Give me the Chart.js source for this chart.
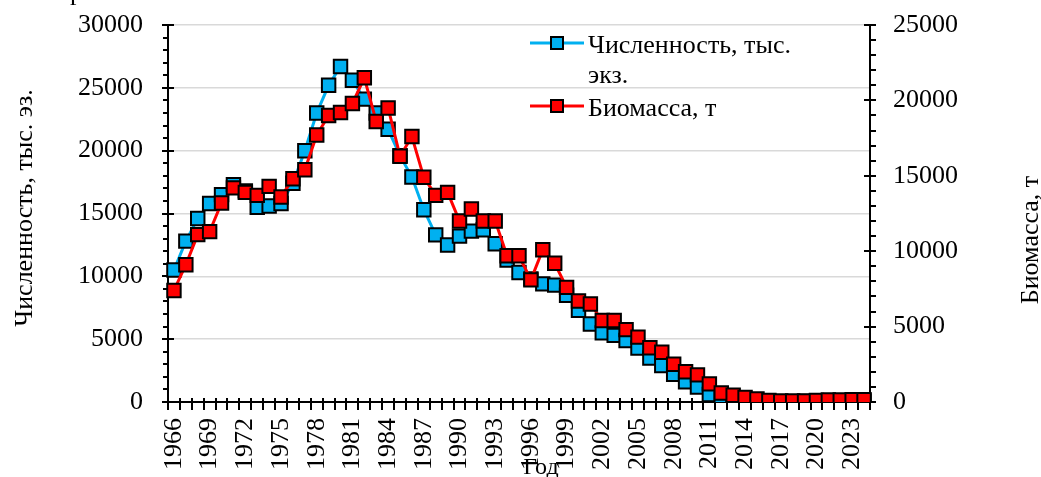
<!DOCTYPE html>
<html>
<head>
<meta charset="utf-8">
<script src="https://cdn.jsdelivr.net/npm/chart.js@4"></script>
<style>
html,body{margin:0;padding:0;background:#fff;}
#wrap{width:1041px;height:477px;position:relative;}
</style>
</head>
<body>
<div id="wrap"><canvas id="c" width="1041" height="477"></canvas></div>
<script>
const years = ["1966","1967","1968","1969","1970","1971","1972","1973","1974","1975","1976","1977","1978","1979","1980","1981","1982","1983","1984","1985","1986","1987","1988","1989","1990","1991","1992","1993","1994","1995","1996","1997","1998","1999","2000","2001","2002","2003","2004","2005","2006","2007","2008","2009","2010","2011","2012","2013","2014","2015","2016","2017","2018","2019","2020","2021","2022","2023","2024"];
const abundance = [10500,12800,14600,15800,16500,17300,16800,15500,15600,15800,17400,20000,23000,25200,26700,25600,24100,23000,21700,19600,17900,15300,13300,12500,13200,13600,13700,12600,11300,10300,9800,9400,9300,8500,7300,6200,5500,5300,4900,4300,3500,2900,2200,1600,1200,600,250,150,100,60,40,30,30,40,50,60,70,80,80];
const biomass = [7400,9100,11100,11300,13200,14200,13900,13700,14300,13600,14800,15400,17700,19000,19200,19800,21500,18600,19500,16300,17600,14900,13700,13900,12000,12800,12000,12000,9700,9700,8100,10100,9200,7600,6700,6500,5400,5400,4800,4300,3600,3300,2500,2000,1800,1200,600,450,300,200,100,70,70,70,100,130,130,150,150];
const leftTicksMax = 30000;
const rightTicksMax = 25000;
const seriesNames = ["Численность, тыс. экз.", "Биомасса, т"];
const leftTitle = "Численность, тыс. эз.";
const rightTitle = "Биомасса, т";
const xTitle = "Год";

const FONT = "'Liberation Serif', 'Times New Roman', serif";
const BLUE = "#00b0f0", RED = "#ff0000";

const deco = {
  id: 'deco',
  beforeDatasetsDraw(chart) {
    const ctx = chart.ctx, a = chart.chartArea;
    const {x, y, y1} = chart.scales;
    ctx.save();
    ctx.strokeStyle = '#000'; ctx.lineWidth = 2;
    ctx.beginPath();
    y.ticks.forEach(t => {
      const py = Math.round(y.getPixelForValue(t.value));
      if (t.value % 5000 === 0) { ctx.moveTo(a.left - 6, py); ctx.lineTo(a.left + 6, py); }
      else { ctx.moveTo(a.left - 5, py); ctx.lineTo(a.left, py); }
    });
    y1.ticks.forEach(t => {
      const py = Math.round(y1.getPixelForValue(t.value));
      if (t.value % 5000 === 0) { ctx.moveTo(a.right - 6, py); ctx.lineTo(a.right + 6, py); }
      else { ctx.moveTo(a.right, py); ctx.lineTo(a.right + 6, py); }
    });
    for (let i = 0; i <= years.length; i++) {
      const px = Math.round(x.getPixelForValue(i - 0.5));
      ctx.moveTo(px, a.bottom - 4); ctx.lineTo(px, a.bottom + 8);
    }
    ctx.stroke();
    ctx.restore();
  },
  afterDraw(chart) {
    const ctx = chart.ctx;
    ctx.save();
    ctx.fillStyle = '#000';
    ctx.font = '26px ' + FONT;
    ctx.textAlign = 'center'; ctx.textBaseline = 'middle';
    ctx.save(); ctx.translate(25, 208); ctx.rotate(-Math.PI/2); ctx.fillText(leftTitle, 0, 0); ctx.restore();
    ctx.textBaseline = 'alphabetic';
    ctx.save(); ctx.translate(1038, 240); ctx.rotate(-Math.PI/2); ctx.fillText(rightTitle, 0, 0); ctx.restore();
    ctx.font = '24px ' + FONT;
    ctx.fillText(xTitle, 541, 474);
    ctx.textAlign = 'left';
    ctx.font = '26px ' + FONT;
    ctx.fillText('р', 70, 0);
    const items = [
      {c: BLUE, y: 43, lines: ["Численность, тыс.", "экз."], base: 53},
      {c: RED, y: 106, lines: ["Биомасса, т"], base: 116}
    ];
    ctx.font = '26px ' + FONT;
    items.forEach(it => {
      ctx.strokeStyle = it.c; ctx.lineWidth = 3;
      ctx.beginPath(); ctx.moveTo(530, it.y); ctx.lineTo(584, it.y); ctx.stroke();
      ctx.fillStyle = it.c; ctx.fillRect(551, it.y - 6, 12, 12);
      ctx.strokeStyle = '#000'; ctx.lineWidth = 2; ctx.strokeRect(551, it.y - 6, 12, 12);
      ctx.fillStyle = '#000';
      it.lines.forEach((l, k) => ctx.fillText(l, 588, it.base + k * 30));
    });
    ctx.restore();
  }
};

function zeroPad(s) { s.paddingTop = 0; s.paddingBottom = 0; s.paddingLeft = 0; s.paddingRight = 0; }

new Chart(document.getElementById('c'), {
  type: 'line',
  data: {
    labels: years,
    datasets: [
      { label: seriesNames[0], data: abundance, yAxisID: 'y', order: 1,
        borderColor: BLUE, borderWidth: 3, backgroundColor: BLUE,
        pointStyle: 'rect', pointRadius: 9.5, pointBorderColor: '#000', pointBorderWidth: 2,
        pointBackgroundColor: BLUE, tension: 0 },
      { label: seriesNames[1], data: biomass, yAxisID: 'y1', order: 0,
        borderColor: RED, borderWidth: 3, backgroundColor: RED,
        pointStyle: 'rect', pointRadius: 9.5, pointBorderColor: '#000', pointBorderWidth: 2,
        pointBackgroundColor: RED, tension: 0 }
    ]
  },
  options: {
    responsive: false, animation: false,
    layout: { padding: { top: 25, left: 0, right: 0, bottom: 0 } },
    plugins: { legend: { display: false }, tooltip: { enabled: false } },
    scales: {
      x: {
        type: 'category', offset: true,
        grid: { display: false, drawTicks: false },
        border: { display: true, color: '#000', width: 2 },
        ticks: { autoSkip: false, minRotation: 90, maxRotation: 90, padding: 16, color: '#000',
          font: { family: FONT, size: 26 },
          callback: (v, i) => (i % 3 === 0 ? years[i] : '') },
        afterFit: s => { s.height = 75; zeroPad(s); }
      },
      y: {
        position: 'left', min: 0, max: leftTicksMax,
        grid: { drawTicks: false, lineWidth: 1.5,
          color: c => (c.tick && c.tick.value % 5000 === 0 && c.tick.value !== 0) ? '#d9d9d9' : 'rgba(0,0,0,0)' },
        border: { display: true, color: '#000', width: 2 },
        ticks: { stepSize: 1000, padding: 25, color: '#000', autoSkip: false,
          font: { family: FONT, size: 26 },
          callback: v => (v % 5000 === 0 ? String(v) : '') },
        afterFit: s => { s.width = 168; zeroPad(s); }
      },
      y1: {
        position: 'right', min: 0, max: rightTicksMax,
        grid: { drawOnChartArea: false, drawTicks: false },
        border: { display: true, color: '#000', width: 2 },
        ticks: { stepSize: 1000, padding: 23, color: '#000', autoSkip: false,
          font: { family: FONT, size: 26 },
          callback: v => (v % 5000 === 0 ? String(v) : '') },
        afterFit: s => { s.width = 171; zeroPad(s); }
      }
    }
  },
  plugins: [deco]
});
</script>
</body>
</html>
